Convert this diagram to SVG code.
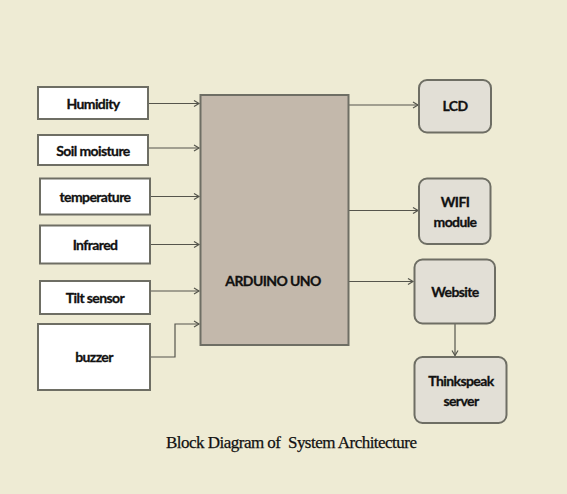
<svg xmlns="http://www.w3.org/2000/svg" width="567" height="494" viewBox="0 0 567 494">
<style>
.bg{fill:#EEEBD4}
.in rect{fill:#FFFFFF;stroke:#6E6E64;stroke-width:2}
.out rect{fill:#E2DFD6;stroke:#6E6E64;stroke-width:2}
.mcu rect{fill:#C3B8AB;stroke:#6E6E64;stroke-width:2}
.lbl{font-family:Lato,"Open Sans",sans-serif;font-weight:bold;font-size:14px;fill:#111;stroke:#111;stroke-width:0.3;text-anchor:middle;dominant-baseline:central;letter-spacing:-0.6px}
.cap{font-family:"Liberation Serif",serif;font-size:17px;fill:#111;stroke:#111;stroke-width:0.25}
.conn path{fill:none;stroke:#55554C;stroke-width:1.2}
</style>
<defs>
<marker id="ah" markerWidth="8" markerHeight="8" refX="6" refY="4" orient="auto" markerUnits="userSpaceOnUse">
<polyline points="1,1 6,4 1,7" fill="none" stroke="#55554C" stroke-width="1.2"/>
</marker>
</defs>
<rect class="bg" x="0" y="0" width="567" height="494"/>

<g class="conn">
<path d="M149,103.5 H199" marker-end="url(#ah)"/>
<path d="M149,148 H199" marker-end="url(#ah)"/>
<path d="M150,196.5 H199" marker-end="url(#ah)"/>
<path d="M150,244.5 H199" marker-end="url(#ah)"/>
<path d="M150,291 H199" marker-end="url(#ah)"/>
<path d="M150,357 H175 V324 H199" marker-end="url(#ah)"/>
<path d="M349,105 H418" marker-end="url(#ah)"/>
<path d="M349,210.5 H418" marker-end="url(#ah)"/>
<path d="M349,281.5 H413" marker-end="url(#ah)"/>
<path d="M455,324 V355.5" marker-end="url(#ah)"/>
</g>

<g id="humidity" class="in"><rect x="38" y="87" width="110" height="32"/><text class="lbl" x="93" y="103">Humidity</text></g>
<g id="soil" class="in"><rect x="38" y="135" width="110" height="30"/><text class="lbl" x="93" y="150">Soil moisture</text></g>
<g id="temperature" class="in"><rect x="40" y="178.5" width="110" height="36"/><text class="lbl" x="95" y="196.5">temperature</text></g>
<g id="infrared" class="in"><rect x="40" y="225.5" width="110" height="38"/><text class="lbl" x="95" y="244.5">Infrared</text></g>
<g id="tilt" class="in"><rect x="40" y="281" width="110" height="33"/><text class="lbl" x="95" y="297.5">Tilt sensor</text></g>
<g id="buzzer" class="in"><rect x="38" y="324" width="112" height="66"/><text class="lbl" x="94" y="356.5">buzzer</text></g>

<g id="arduino" class="mcu"><rect x="200.5" y="95" width="148" height="250"/><text class="lbl" x="273" y="280">ARDUINO UNO</text></g>

<g id="lcd" class="out"><rect x="419" y="80" width="72" height="52.5" rx="8"/><text class="lbl" x="455" y="105.5">LCD</text></g>
<g id="wifi" class="out"><rect x="419" y="178.5" width="71.5" height="65.5" rx="8"/><text class="lbl" x="455" y="201.5">WIFI</text><text class="lbl" x="455" y="221.5">module</text></g>
<g id="website" class="out"><rect x="414.5" y="259.5" width="80.5" height="64" rx="8"/><text class="lbl" x="455" y="291.5">Website</text></g>
<g id="thinkspeak" class="out"><rect x="414.5" y="357" width="92" height="66" rx="8"/><text class="lbl" x="461" y="380">Thinkspeak</text><text class="lbl" x="461" y="400">server</text></g>

<text class="cap" x="166" y="448" textLength="251" lengthAdjust="spacing" xml:space="preserve">Block Diagram of  System Architecture</text>
</svg>
